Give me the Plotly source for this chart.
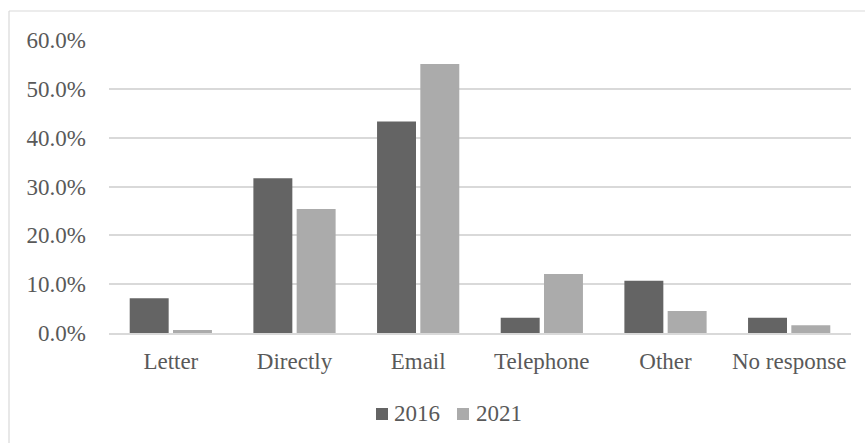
import plotly.graph_objects as go

categories = ["Letter", "Directly", "Email", "Telephone", "Other", "No response"]
values_2016 = [7.1, 31.7, 43.3, 3.1, 10.7, 3.1]
values_2021 = [0.6, 25.4, 55.1, 12.1, 4.5, 1.6]
series_names = ["2016", "2021"]
tick_vals = [0, 10, 20, 30, 40, 50, 60]
tick_text = ["0.0%", "10.0%", "20.0%", "30.0%", "40.0%", "50.0%", "60.0%"]

W, H = 865, 443
ml, mr, mt, mb = 109, 14, 40, 110
colors = ["#646464", "#ababab"]

fig = go.Figure()
for name, vals, col in zip(series_names, [values_2016, values_2021], colors):
    fig.add_trace(go.Bar(name=name, x=categories, y=vals, showlegend=False,
                         marker=dict(color=col, line=dict(width=0))))

font = dict(family="Liberation Serif, Times New Roman, serif", size=23, color="#595959")

pw = W - ml - mr
ph = H - mt - mb
def px(x):
    return (x - ml) / pw
def py(y):
    return (H - mb - y) / ph

shapes = [
    dict(type="line", xref="paper", yref="paper", x0=px(9), x1=px(870), y0=py(11), y1=py(11),
         line=dict(color="#d9d9d9", width=1.2)),
    dict(type="line", xref="paper", yref="paper", x0=px(9), x1=px(9), y0=py(11), y1=py(450),
         line=dict(color="#d9d9d9", width=1.2)),
]
annotations = []
legend_sq_x = [376, 457]
legend_txt_x = [392, 474]
for i, name in enumerate(series_names):
    shapes.append(dict(type="rect", xref="paper", yref="paper",
                       x0=px(legend_sq_x[i]), x1=px(legend_sq_x[i] + 12),
                       y0=py(420), y1=py(408), fillcolor=colors[i], line=dict(width=0)))
    annotations.append(dict(text=name, xref="paper", yref="paper", x=px(legend_txt_x[i]),
                            y=py(413), xanchor="left", yanchor="middle", showarrow=False,
                            font=font))

fig.update_layout(
    width=W, height=H,
    margin=dict(l=ml, r=mr, t=mt, b=mb),
    paper_bgcolor="white", plot_bgcolor="white",
    barmode="group", bargap=0.3, bargroupgap=0.1,
    font=font,
    xaxis=dict(showgrid=False, showline=True, linecolor="#d9d9d9", linewidth=2,
               ticks="", tickfont=font, ticklabelstandoff=6),
    yaxis=dict(range=[0, 60], tickvals=tick_vals, ticktext=tick_text,
               showgrid=True, gridcolor="#d9d9d9", gridwidth=1.5,
               zeroline=False, showline=False, tickfont=font, ticklabelstandoff=22),
    shapes=shapes,
    annotations=annotations,
)

fig.write_html("out.html")
